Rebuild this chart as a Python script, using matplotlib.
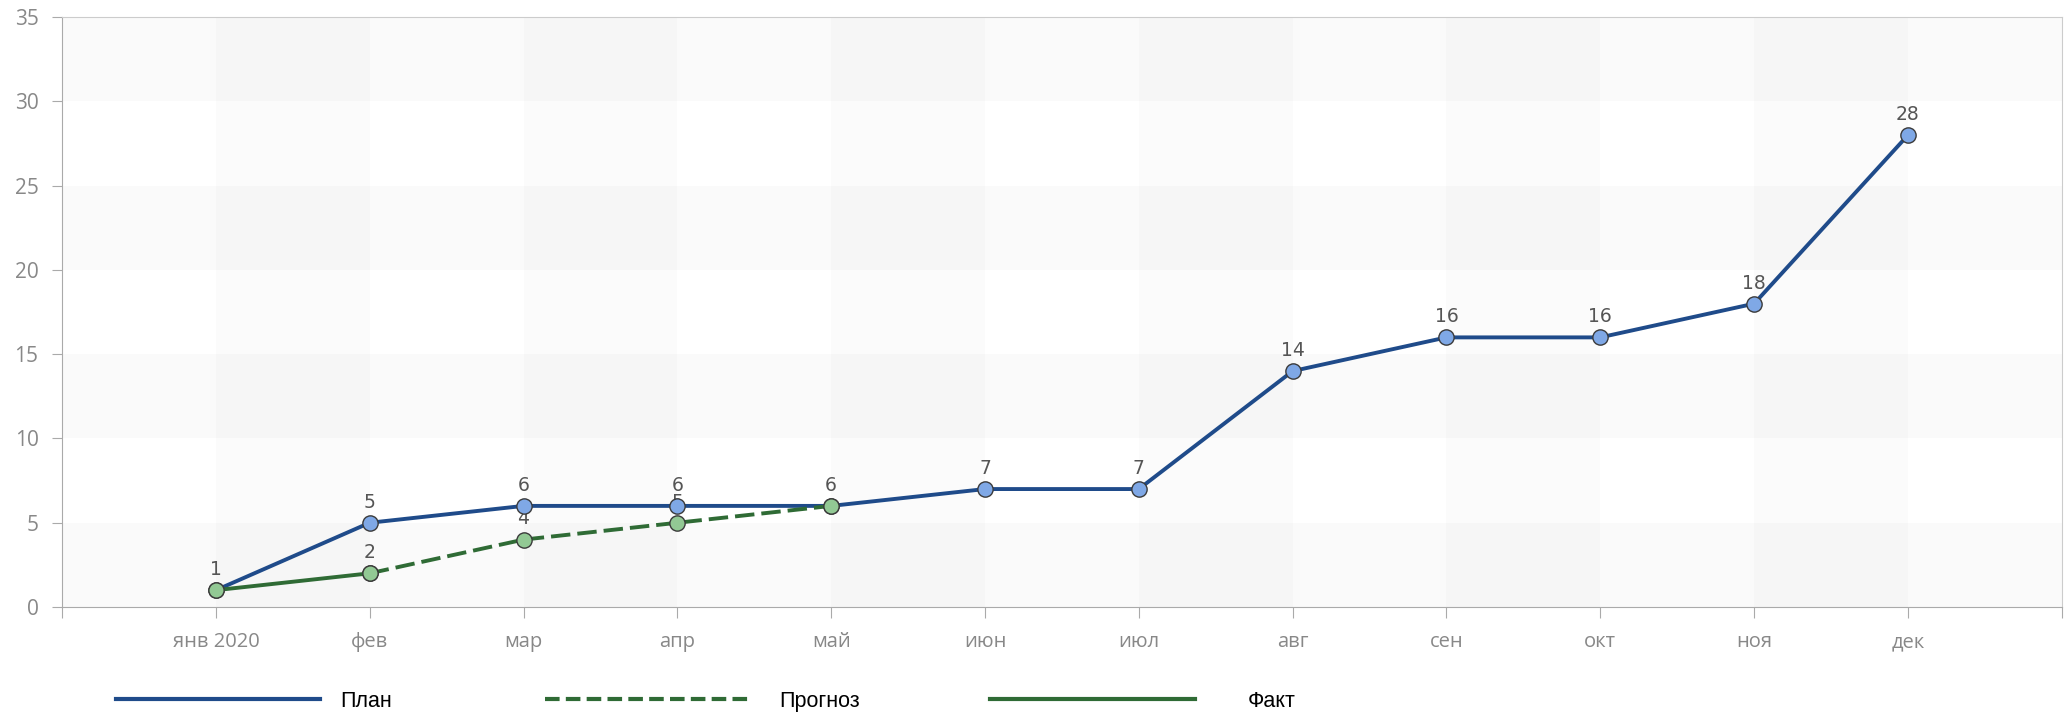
import numpy as np
import matplotlib
matplotlib.use('Agg')
import matplotlib.pyplot as plt
from matplotlib.lines import Line2D

# данные
months = ['янв 2020', 'фев', 'мар', 'апр', 'май', 'июн', 'июл', 'авг', 'сен', 'окт', 'ноя', 'дек']
plan = [1, 5, 6, 6, 6, 7, 7, 14, 16, 16, 18, 28]
forecast_idx = [1, 2, 3, 4]
forecast = [2, 4, 5, 6]
fact_idx = [0, 1]
fact = [1, 2]

blue = '#1f4b8a'
blue_m = '#7fa8e6'
green = '#2f6b35'
green_m = '#92c994'
edge = '#3a3a3a'

fig = plt.figure(figsize=(20.7, 7.17), dpi=100)
ax = fig.add_axes([0.030, 0.1534, 0.966, 0.8226])

x = np.arange(len(months))
ax.set_xlim(-0.97, 12.0)
ax.set_ylim(0, 35)

# фон: полосы
for y0 in range(0, 35, 10):
    ax.axhspan(y0, y0 + 5, color='black', alpha=0.02, lw=0, zorder=0)
for x0 in range(0, 12, 2):
    ax.axvspan(x0, x0 + 1, color='black', alpha=0.016, lw=0, zorder=0)

ax.plot(x, plan, color=blue, lw=2.8, marker='o', ms=11, mfc=blue_m, mec=edge, mew=1, zorder=3)
ax.plot(forecast_idx, forecast, color=green, lw=2.8, ls=(0, (5, 1.8)), marker='o', ms=11,
        mfc=green_m, mec=edge, mew=1, zorder=4)
ax.plot(fact_idx, fact, color=green, lw=2.8, marker='o', ms=11, mfc=green_m, mec=edge, mew=1, zorder=5)

done = set()
for xs, ys in [(x, plan), (forecast_idx, forecast), (fact_idx, fact)]:
    for xi, yi in zip(xs, ys):
        if (xi, yi) in done:
            continue
        done.add((xi, yi))
        ax.annotate(str(yi), (xi, yi), xytext=(0, 8), textcoords='offset points',
                    ha='center', va='bottom', fontsize=13.5, color='#555555', zorder=2)

ax.set_yticks(range(0, 36, 5))
ax.set_xticks(list(range(-1, 13)))
ax.set_xticklabels([''] + months + [''])
ax.tick_params(axis='y', length=7, width=0.8, color='#aaaaaa', pad=10, labelsize=15, labelcolor='#888888')
ax.tick_params(axis='x', length=8, width=0.8, color='#aaaaaa', pad=10, labelsize=14.5, labelcolor='#888888')
for lab in ax.get_xticklabels() + ax.get_yticklabels():
    lab.set_family('Open Sans')

for s in ['left', 'bottom']:
    ax.spines[s].set_color('#aaaaaa')
for s in ['top', 'right']:
    ax.spines[s].set_color('#cccccc')

# легенда: три отдельных элемента
leg_items = [
    (Line2D([], [], color=blue, lw=3), 'План', 0.056, 0.93),
    (Line2D([], [], color=green, lw=3, ls=(0, (3.5, 1.5))), 'Прогноз', 0.2633, 1.4),
    (Line2D([], [], color=green, lw=3), 'Факт', 0.4783, 2.46),
]
for h, name, xpos, pad in leg_items:
    fig.legend([h], [name], loc='center left', bbox_to_anchor=(xpos, 0.022),
               frameon=False, borderpad=0, borderaxespad=0, handlelength=9.5, handletextpad=pad,
               prop={'family': 'Liberation Sans', 'size': 15.5})

fig.savefig('out.png', dpi=100, facecolor='white')
